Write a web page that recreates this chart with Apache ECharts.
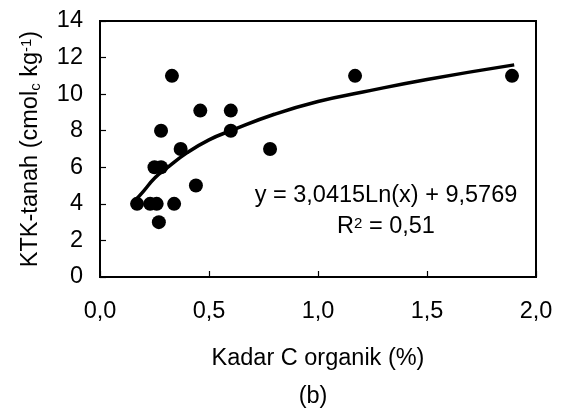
<!DOCTYPE html>
<html>
<head>
<meta charset="utf-8">
<script src="https://cdn.jsdelivr.net/npm/echarts@6/dist/echarts.min.js"></script>
<style>
  html, body { margin: 0; padding: 0; background: #fff; }
  #chart { width: 566px; height: 411px; }
</style>
</head>
<body>
<div id="chart"></div>
<script>
// observed points: C organik (%) vs KTK-tanah
const cOrganik = [0.17, 0.23, 0.26, 0.34, 0.27, 0.25, 0.28, 0.28, 0.37, 0.44, 0.33, 0.46, 0.60, 0.60, 0.78, 1.17, 1.89];
const ktk      = [4,    4,    4,    4,    3,    6,    6,    8,    7,    5,    11,   9.1,  9.1,  8,    7,    11,   11];

// log trendline
const trendX = [0.17, 0.2, 0.25, 0.3, 0.4, 0.5, 0.6, 0.8, 1.0, 1.2, 1.5, 1.9];
const trendY = [4.3,  4.7, 5.4,  5.9, 6.8, 7.5, 8.0, 8.9, 9.6, 10.1, 10.8, 11.6];

const eqText = 'y = 3,0415Ln(x) + 9,5769';
const font = 'Liberation Sans, Arial, sans-serif';
const fs = 23.5;

const chart = echarts.init(document.getElementById('chart'));

const points = cOrganik.map((x, i) => [x, ktk[i]]);
const trend = trendX.map((x, i) => [x, trendY[i]]);

const axisLine = { show: true, lineStyle: { color: '#000', width: 2 } };
const axisTick = { show: true, inside: true, length: 6, lineStyle: { color: '#000', width: 1.2 } };

chart.setOption({
    animation: false,
    backgroundColor: '#fff',
    grid: {
        left: 100, right: 30, top: 21, bottom: 134,
        show: true, borderColor: '#000', borderWidth: 2
    },
    xAxis: {
        type: 'value', min: 0, max: 2, interval: 0.5,
        axisLine: axisLine,
        axisTick: axisTick,
        splitLine: { show: false },
        axisLabel: {
            color: '#000', fontFamily: font, fontSize: fs, margin: 23,
            formatter: v => v.toFixed(1).replace('.', ',')
        },
        name: 'Kadar C organik (%)',
        nameLocation: 'middle', nameGap: 70,
        nameTextStyle: { color: '#000', fontFamily: font, fontSize: fs }
    },
    yAxis: {
        type: 'value', min: 0, max: 14, interval: 2,
        axisLine: axisLine,
        axisTick: axisTick,
        splitLine: { show: false },
        axisLabel: { color: '#000', fontFamily: font, fontSize: fs, margin: 17 },
        name: '{a|KTK-tanah (cmol}{sub|c}{a| kg}{sup|-1}{a|)}',
        nameLocation: 'middle', nameGap: 44, nameRotate: 90,
        nameTextStyle: {
            color: '#000', fontFamily: font, fontSize: fs,
            rich: {
                a: { color: '#000', fontFamily: font, fontSize: fs, lineHeight: 30, verticalAlign: 'middle' },
                sub: { color: '#000', fontFamily: font, fontSize: 15, lineHeight: 30, verticalAlign: 'bottom', padding: [0, 0, 3, 0] },
                sup: { color: '#000', fontFamily: font, fontSize: 15, lineHeight: 30, verticalAlign: 'top', padding: [3, 0, 0, 0] }
            }
        }
    },
    series: [
        {
            type: 'line', data: trend, smooth: true, showSymbol: false,
            lineStyle: { color: '#000', width: 3.5 }, z: 2
        },
        {
            type: 'scatter', data: points, symbol: 'circle', symbolSize: 14,
            itemStyle: { color: '#000', opacity: 1 }, z: 3
        }
    ],
    graphic: [
        {
            type: 'text', x: 386, y: 196,
            style: { text: eqText, fill: '#000', font: fs + 'px ' + font, textAlign: 'center', textVerticalAlign: 'middle' }
        },
        {
            type: 'text', x: 386, y: 227,
            style: {
                text: '{a|R}{sup|2}{a| = 0,51}', textAlign: 'center', textVerticalAlign: 'middle',
                rich: {
                    a: { fill: '#000', fontFamily: font, fontSize: fs, lineHeight: 28, verticalAlign: 'middle' },
                    sup: { fill: '#000', fontFamily: font, fontSize: 15, lineHeight: 28, verticalAlign: 'top', padding: [3, 0, 0, 0] }
                }
            }
        },
        {
            type: 'text', x: 313, y: 397,
            style: { text: '(b)', fill: '#000', font: fs + 'px ' + font, textAlign: 'center', textVerticalAlign: 'middle' }
        }
    ]
});
</script>
</body>
</html>
